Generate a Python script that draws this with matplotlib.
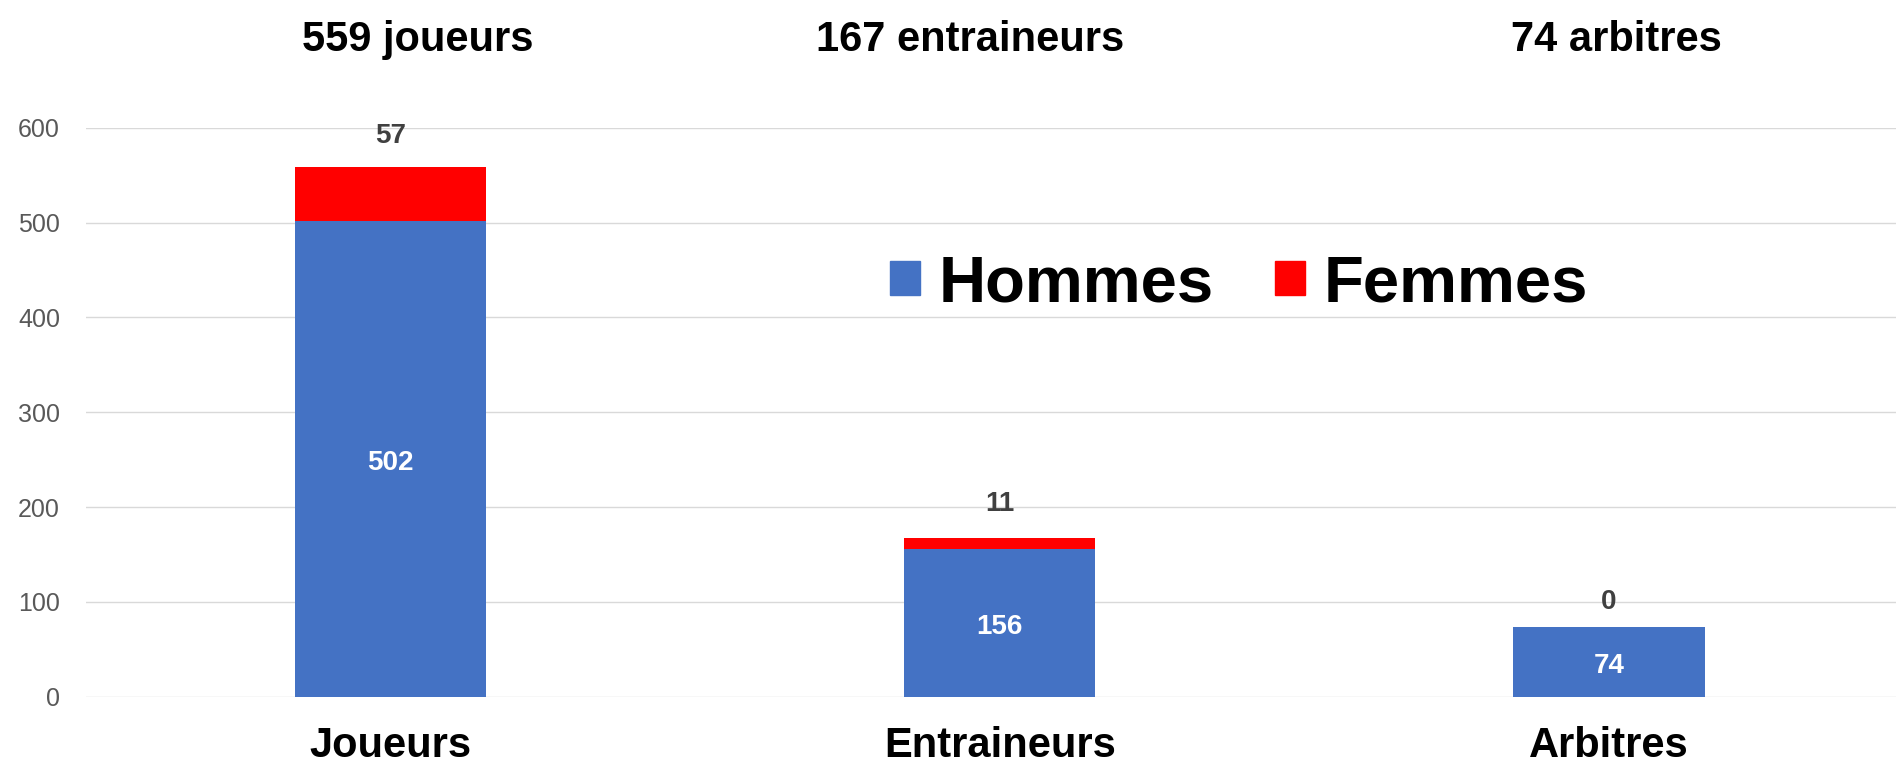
import matplotlib
matplotlib.use("Agg")
import matplotlib.pyplot as plt
from matplotlib.patches import Patch

plt.rcParams['font.family'] = ['Liberation Sans', 'DejaVu Sans']

categories = ["Joueurs", "Entraineurs", "Arbitres"]
hommes = [502, 156, 74]
femmes = [57, 11, 0]
totals_text = ["559 joueurs", "167 entraineurs", "74 arbitres"]
yticks = [0, 100, 200, 300, 400, 500, 600]

BLUE = "#4472C4"
RED = "#FF0000"

W, H = 1896, 764
fig = plt.figure(figsize=(W / 100, H / 100), dpi=100)
left = 86 / W
bottom = 1 - 696.7 / H
height = (696.7 - 127.7) / H
ax = fig.add_axes([left, bottom, 1 - left, height])

x = list(range(len(categories)))
bw = 0.314
ax.bar(x, hommes, width=bw, color=BLUE, zorder=3, label="Hommes")
ax.bar(x, femmes, width=bw, bottom=hommes, color=RED, zorder=3, label="Femmes")

ax.set_xlim(-0.5, 2.471)
ax.set_ylim(0, 600)
ax.set_yticks(yticks)
ax.grid(axis='y', color='#d9d9d9', linewidth=1.0, zorder=0)
ax.set_axisbelow(True)
for s in ax.spines.values():
    s.set_visible(False)
ax.tick_params(axis='y', length=0, pad=26 * 72 / 100, labelsize=18, labelcolor='#595959')
ax.tick_params(axis='x', length=0, pad=21, labelsize=30)
ax.set_xticks(x)
ax.set_xticklabels(categories, fontweight='bold', color='black')

# inner labels
for xi, h in zip(x, hommes):
    ax.annotate(str(h), xy=(xi, h / 2), xytext=(0, -4 * 72 / 100),
                textcoords='offset points', ha='center', va='center',
                color='white', fontsize=20, fontweight='bold', zorder=4)

# labels above
offsets_px = [31, 34, 25]
for xi, h, f, off in zip(x, hommes, femmes, offsets_px):
    ax.annotate(str(f), xy=(xi, h + f), xytext=(0, off * 72 / 100),
                textcoords='offset points', ha='center', va='center',
                color='#404040', fontsize=20, fontweight='bold',
                annotation_clip=False)

# header texts
title_x = [417.5, 970, 1616]
for tx, t in zip(title_x, totals_text):
    fig.text(tx / W, 1 - 40 / H, t, ha='center', va='center', fontsize=30,
             fontweight='bold', color='black')

handles = [Patch(color=BLUE, label="Hommes"), Patch(color=RED, label="Femmes")]
leg = fig.legend(handles=handles, loc='center left',
                 bbox_to_anchor=(890 / W, 1 - 284 / H), ncol=2, frameon=False,
                 prop={'size': 47, 'weight': 'bold'}, handlelength=0.46,
                 handleheight=0.42, handletextpad=0.29, columnspacing=0.93,
                 borderpad=0, borderaxespad=0)

fig.savefig("out.png", dpi=100)
